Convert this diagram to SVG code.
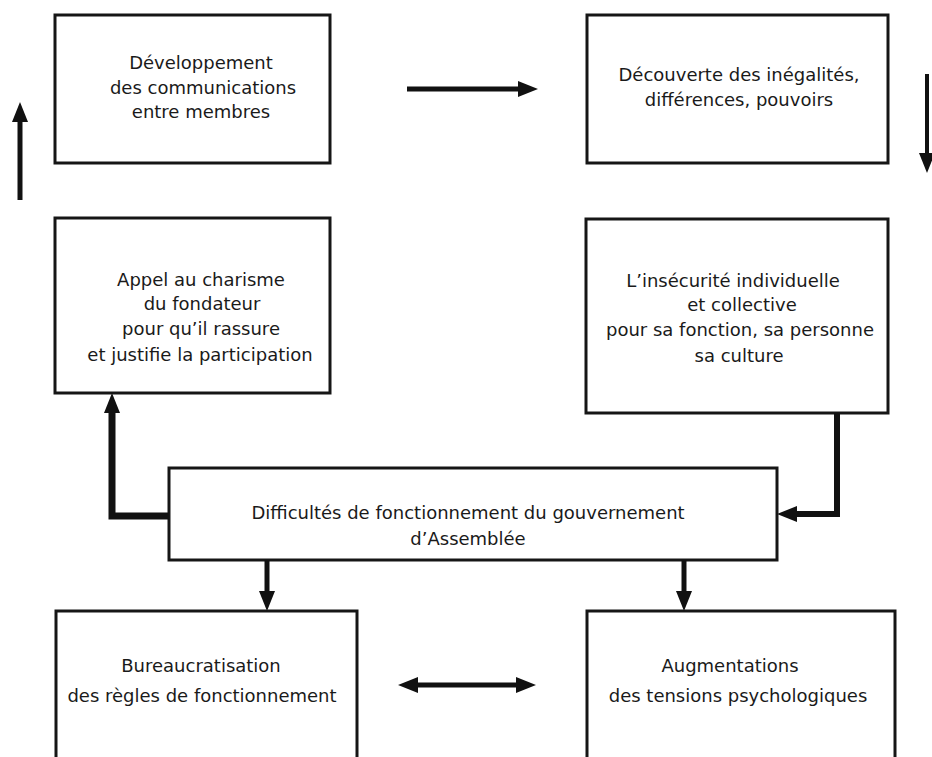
<svg xmlns="http://www.w3.org/2000/svg" width="932" height="757" viewBox="0 0 932 757">
  <defs>
    <style>
      .box { fill: #ffffff; stroke: #161616; stroke-width: 3; }
      .lbl { font-family: "DejaVu Sans", "Liberation Sans", sans-serif; font-size: 18px; fill: #1a1a1a; text-anchor: middle; }
      .link { fill: none; stroke: #111111; stroke-linejoin: miter; stroke-linecap: butt; }
    </style>
    <marker id="head" viewBox="0 0 20 16" markerWidth="20" markerHeight="16" refX="10" refY="8" orient="auto-start-reverse" markerUnits="userSpaceOnUse">
      <path d="M0,0 L20,8 L0,16 Z" fill="#111111"/>
    </marker>
  </defs>

  <rect width="932" height="757" fill="#ffffff"/>

  <!-- nodes -->
  <g id="developpement">
    <rect class="box" x="55" y="15" width="275" height="148"/>
    <text class="lbl" x="201" y="69">Développement</text>
    <text class="lbl" x="203" y="94">des communications</text>
    <text class="lbl" x="201" y="118">entre membres</text>
  </g>

  <g id="decouverte">
    <rect class="box" x="587" y="15" width="301" height="148"/>
    <text class="lbl" x="739" y="81">Découverte des inégalités,</text>
    <text class="lbl" x="739" y="106">différences, pouvoirs</text>
  </g>

  <g id="charisme">
    <rect class="box" x="55" y="218" width="275" height="175"/>
    <text class="lbl" x="201" y="286">Appel au charisme</text>
    <text class="lbl" x="202" y="310">du fondateur</text>
    <text class="lbl" x="201" y="335">pour qu’il rassure</text>
    <text class="lbl" x="200" y="361">et justifie la participation</text>
  </g>

  <g id="insecurite">
    <rect class="box" x="586" y="219" width="302" height="194"/>
    <text class="lbl" x="733" y="287">L’insécurité individuelle</text>
    <text class="lbl" x="742" y="311">et collective</text>
    <text class="lbl" x="740" y="336">pour sa fonction, sa personne</text>
    <text class="lbl" x="739" y="362">sa culture</text>
  </g>

  <g id="difficultes">
    <rect class="box" x="169" y="468" width="608" height="92"/>
    <text class="lbl" x="468" y="519">Difficultés de fonctionnement du gouvernement</text>
    <text class="lbl" x="468" y="545">d’Assemblée</text>
  </g>

  <g id="bureaucratisation">
    <rect class="box" x="56" y="611" width="301" height="170"/>
    <text class="lbl" x="201" y="672">Bureaucratisation</text>
    <text class="lbl" x="202" y="702">des règles de fonctionnement</text>
  </g>

  <g id="tensions">
    <rect class="box" x="587" y="611" width="308" height="170"/>
    <text class="lbl" x="730" y="672">Augmentations</text>
    <text class="lbl" x="738" y="702">des tensions psychologiques</text>
  </g>

  <!-- connectors -->
  <g id="connectors">
    <path class="link" stroke-width="5" d="M20,200 V112" marker-end="url(#head)"/>
    <path class="link" stroke-width="5" d="M407,89 H528" marker-end="url(#head)"/>
    <path class="link" stroke-width="4" d="M927,74 V163" marker-end="url(#head)"/>
    <path class="link" stroke-width="6" d="M837,413 V514 H787" marker-end="url(#head)"/>
    <path class="link" stroke-width="7" d="M169,516 H112 V403" marker-end="url(#head)"/>
    <path class="link" stroke-width="5" d="M267,560 V601" marker-end="url(#head)"/>
    <path class="link" stroke-width="5" d="M684,560 V601" marker-end="url(#head)"/>
    <path class="link" stroke-width="5" d="M408,685 H526" marker-start="url(#head)" marker-end="url(#head)"/>
  </g>
</svg>
